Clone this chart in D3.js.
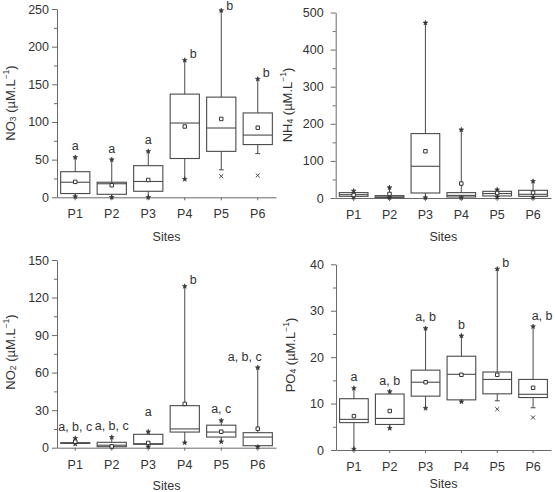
<!DOCTYPE html>
<html>
<head>
<meta charset="utf-8">
<script src="https://cdn.jsdelivr.net/npm/d3@7"></script>
<style>
  html, body { margin: 0; padding: 0; background: #fff; }
  svg { display: block; font-family: "Liberation Sans", Arial, sans-serif; }
</style>
</head>
<body>
<svg id="chart" width="555" height="492"></svg>
<script>
// ---------- data ----------
const categories = ["P1", "P2", "P3", "P4", "P5", "P6"];

// NO3
const no3Low     = [1, 0, 0, 24, 36.5, 58];
const no3Q1      = [5, 4, 8, 51.5, 61, 70];
const no3Median  = [20, 18, 21, 98.6, 92, 82.6];
const no3Q3      = [34, 20, 42, 137, 133, 112];
const no3High    = [53, 50, 61, 182, 248, 157];
const no3Mean    = [20.5, 16, 23, 94, 104, 92.4];
const no3Outliers = [[], [], [], [], [28], [29]];
const no3Letters = ["a", "a", "a", "b", "b", "b"];
const no3Ticks   = [0, 50, 100, 150, 200, 250];

// NH4
const nh4Low     = [2, 1, 1, 1, 2, 1.5];
const nh4Q1      = [4.5, 1, 13.5, 2.7, 5.5, 4.5];
const nh4Median  = [9, 3, 85.5, 7, 12, 10];
const nh4Q3      = [14.5, 6.4, 173.6, 14.5, 18, 20.7];
const nh4High    = [19, 28, 472, 184, 22.5, 45];
const nh4Mean    = [8, 11, 126, 39, 13.5, 14.5];
const nh4Outliers = [[], [], [], [], [], []];
const nh4Letters = ["", "", "", "", "", ""];
const nh4Ticks   = [0, 100, 200, 300, 400, 500];

// NO2
const no2Low     = [3, 0.5, 0.8, 4, 4.8, 0.5];
const no2Q1      = [3.5, 0.8, 2.7, 12.5, 8.5, 1.6];
const no2Median  = [3.7, 2, 3.2, 15, 12.5, 8.5];
const no2Q3      = [4, 4.3, 10.7, 33.6, 18, 12];
const no2High    = [7.5, 8.3, 12.8, 129, 21.8, 64];
const no2Mean    = [4.8, 1, 3.8, 35, 12.8, 15.2];
const no2Outliers = [[], [], [], [], [], []];
const no2Letters = ["a, b, c", "a, b, c", "a", "b", "a, c", "a, b, c"];
const no2Ticks   = [0, 30, 60, 90, 120, 150];

// PO4
const po4Low     = [0.2, 4.7, 9.0, 10.4, 10.6, 9.1];
const po4Q1      = [5.9, 5.5, 11.6, 10.8, 12.1, 11.3];
const po4Median  = [6.6, 6.8, 14.6, 16.3, 15.2, 12.0];
const po4Q3      = [11.05, 12.06, 17.2, 20.2, 16.8, 15.2];
const po4High    = [13.3, 12.6, 26.2, 24.6, 39, 26.6];
const po4Mean    = [7.3, 8.4, 14.6, 16.2, 16.2, 13.4];
const po4Outliers = [[], [], [], [], [8.8], [7.0]];
const po4Letters = ["a", "a, b", "a, b", "b", "b", "a, b"];
const po4Ticks   = [0, 10, 20, 30, 40];

// ---------- layout / style ----------
const panels = [
  { name: "NO", sub: "3", low: no3Low, q1: no3Q1, med: no3Median, q3: no3Q3, high: no3High, mean: no3Mean,
    out: no3Outliers, letters: no3Letters, ticks: no3Ticks,
    x0: 57, x1: 276, yb: 197.3, yt: 9, tickPad: 3, titleX: 10, titleY: 103, sitesY: 241,
    place: ["top","top","top","side","side","side"], ldx: [0,0,0,0,0,0], ldy: [0,0,0,0,0,0] },
  { name: "NH", sub: "4", low: nh4Low, q1: nh4Q1, med: nh4Median, q3: nh4Q3, high: nh4High, mean: nh4Mean,
    out: nh4Outliers, letters: nh4Letters, ticks: nh4Ticks,
    x0: 335.7, x1: 551, yb: 198, yt: 12.5, tickPad: 7, titleX: 287, titleY: 105, sitesY: 241,
    place: ["top","top","top","top","top","top"], ldx: [0,0,0,0,0,0], ldy: [0,0,0,0,0,0] },
  { name: "NO", sub: "2", low: no2Low, q1: no2Q1, med: no2Median, q3: no2Q3, high: no2High, mean: no2Mean,
    out: no2Outliers, letters: no2Letters, ticks: no2Ticks,
    x0: 57, x1: 276, yb: 447.7, yt: 260, tickPad: 3, titleX: 10, titleY: 352, sitesY: 490,
    place: ["top","top","top","side","top","top"], ldx: [0,0,0,0,0,-13], ldy: [0,0,-9,0,0,0] },
  { name: "PO", sub: "4", low: po4Low, q1: po4Q1, med: po4Median, q3: po4Q3, high: po4High, mean: po4Mean,
    out: po4Outliers, letters: po4Letters, ticks: po4Ticks,
    x0: 336, x1: 551, yb: 450, yt: 264.3, tickPad: 7, titleX: 290, titleY: 355, sitesY: 488,
    place: ["top","top","top","top","side","top"], ldx: [0,0,0,0,0,9], ldy: [0,0,0,0,0,0] }
];

const lineColor = "#4a4a4a";
const axisColor = "#6a6a6a";
const textColor = "#333";
const fontSize = 12.5;
const titleSize = 13;
const letterSize = 12.5;

const svg = d3.select("#chart");

panels.forEach(p => {
  const g = svg.append("g");
  const x = d3.scaleBand().domain(categories).range([p.x0, p.x1]).paddingInner(0).paddingOuter(0);
  const yMax = p.ticks[p.ticks.length - 1];
  const y = d3.scaleLinear().domain([0, yMax]).range([p.yb, p.yt]);
  const step = p.ticks[1] - p.ticks[0];
  const minor = d3.range(step / 2, yMax, step);

  // minor ticks
  g.append("g").attr("transform", `translate(${p.x0},0)`)
    .call(d3.axisLeft(y).tickValues(minor).tickSize(3).tickSizeOuter(0).tickFormat(""))
    .call(a => a.select(".domain").remove())
    .call(a => a.selectAll("line").attr("stroke", axisColor));

  // major y axis
  g.append("g").attr("transform", `translate(${p.x0},0)`)
    .call(d3.axisLeft(y).tickValues(p.ticks).tickSize(5).tickSizeOuter(0).tickPadding(p.tickPad))
    .call(a => a.select(".domain").attr("stroke", axisColor))
    .call(a => a.selectAll("line").attr("stroke", axisColor))
    .call(a => a.selectAll("text").attr("fill", textColor).attr("font-size", fontSize)
      .attr("font-family", "Liberation Sans, Arial, sans-serif"));

  // x axis
  g.append("g").attr("transform", `translate(0,${p.yb})`)
    .call(d3.axisBottom(x).tickSize(3).tickSizeOuter(0).tickPadding(9))
    .call(a => a.select(".domain").attr("stroke", axisColor))
    .call(a => a.selectAll("line").attr("stroke", axisColor))
    .call(a => a.selectAll("text").attr("fill", textColor).attr("font-size", fontSize)
      .attr("font-family", "Liberation Sans, Arial, sans-serif"));

  const bw = x.bandwidth() * 0.8;
  const star = d3.symbol().type(d3.symbolStar).size(7);
  const sq = d3.symbol().type(d3.symbolSquare).size(12);
  const cross = d3.symbol().type(d3.symbolX).size(12);

  categories.forEach((c, i) => {
    const cx = x(c) + x.bandwidth() / 2;
    const hasLowOut = p.out[i].some(v => v < p.low[i]);
    const hasHighOut = p.out[i].some(v => v > p.high[i]);
    // whiskers
    g.append("line").attr("x1", cx).attr("x2", cx).attr("y1", y(p.high[i])).attr("y2", y(p.q3[i]))
      .attr("stroke", lineColor).attr("stroke-width", 1);
    g.append("line").attr("x1", cx).attr("x2", cx).attr("y1", y(p.low[i])).attr("y2", y(p.q1[i]))
      .attr("stroke", lineColor).attr("stroke-width", 1);
    // box
    g.append("rect").attr("x", cx - bw / 2).attr("width", bw)
      .attr("y", y(p.q3[i])).attr("height", Math.max(0.5, y(p.q1[i]) - y(p.q3[i])))
      .attr("fill", "none").attr("stroke", lineColor).attr("stroke-width", 1.1);
    // median
    g.append("line").attr("x1", cx - bw / 2).attr("x2", cx + bw / 2)
      .attr("y1", y(p.med[i])).attr("y2", y(p.med[i]))
      .attr("stroke", lineColor).attr("stroke-width", 1.1);
    // whisker end markers
    [[p.high[i], hasHighOut], [p.low[i], hasLowOut]].forEach(([v, cap]) => {
      if (cap) {
        g.append("line").attr("x1", cx - 2.5).attr("x2", cx + 2.5).attr("y1", y(v)).attr("y2", y(v))
          .attr("stroke", lineColor).attr("stroke-width", 1);
      } else {
        g.append("path").attr("d", star).attr("transform", `translate(${cx},${y(v)})`)
          .attr("fill", "#333").attr("stroke", "#333").attr("stroke-width", 0.6);
      }
    });
    // outliers
    p.out[i].forEach(v => {
      g.append("path").attr("d", cross).attr("transform", `translate(${cx},${y(v)})`)
        .attr("fill", "none").attr("stroke", "#444").attr("stroke-width", 1);
    });
    // mean
    g.append("path").attr("d", sq).attr("transform", `translate(${cx},${y(p.mean[i])})`)
      .attr("fill", "#fff").attr("stroke", "#333").attr("stroke-width", 1);
    // letters
    if (p.letters[i]) {
      const side = p.place[i] === "side";
      const ly = (side ? y(p.high[i]) - 2 : y(p.high[i]) - 7) + p.ldy[i];
      g.append("text")
        .attr("x", side ? cx + 5 : cx + p.ldx[i])
        .attr("y", Math.max(10, ly))
        .attr("text-anchor", side ? "start" : "middle")
        .attr("font-size", letterSize).attr("fill", textColor)
        .text(p.letters[i]);
    }
  });

  // x title
  g.append("text").attr("x", (p.x0 + p.x1) / 2).attr("y", p.sitesY)
    .attr("text-anchor", "middle").attr("font-size", fontSize).attr("fill", textColor).text("Sites");

  // y title
  const t = g.append("text").attr("transform", `translate(${p.titleX},${p.titleY}) rotate(-90)`)
    .attr("text-anchor", "middle").attr("dominant-baseline", "central")
    .attr("font-size", titleSize).attr("fill", textColor);
  t.append("tspan").text(p.name);
  t.append("tspan").attr("font-size", 8.5).attr("dy", 3).text(p.sub);
  t.append("tspan").attr("dy", -3).text(" (µM.L");
  t.append("tspan").attr("font-size", 8.5).attr("dy", -4).text("−1");
  t.append("tspan").attr("dy", 4).text(")");
});
</script>
</body>
</html>
